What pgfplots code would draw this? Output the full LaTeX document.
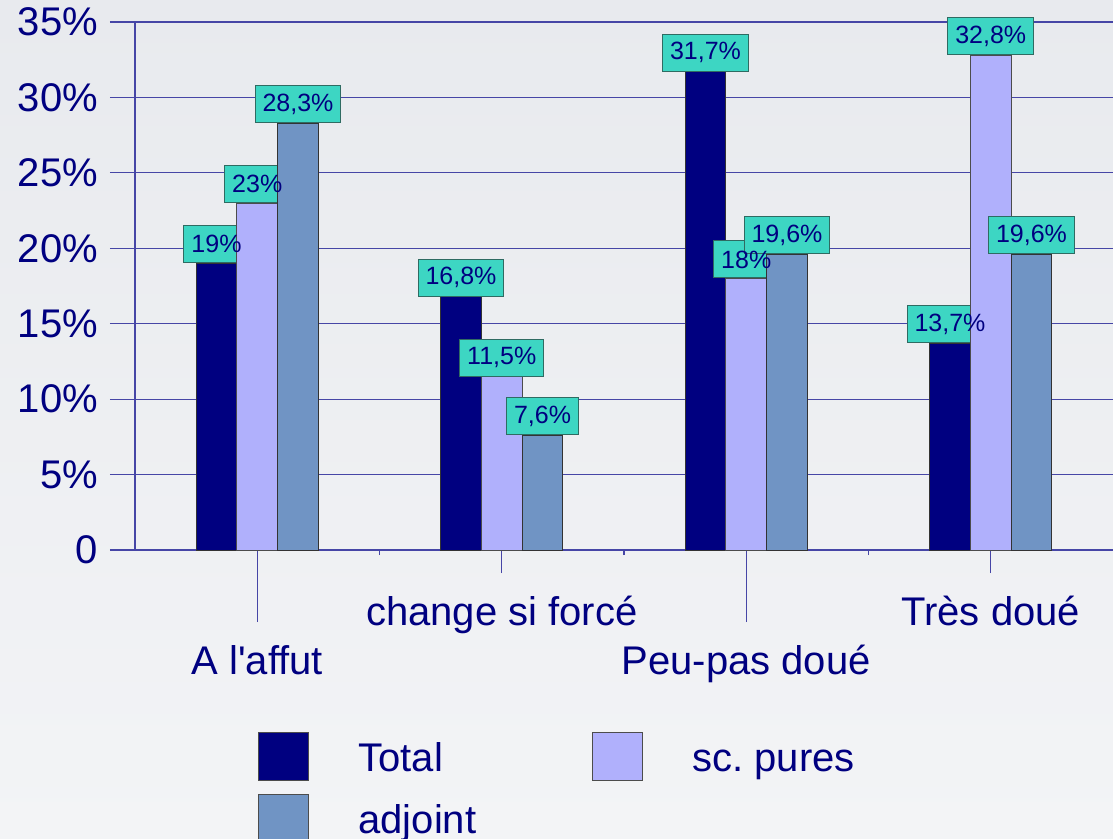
\documentclass[border=0pt]{standalone}
\usepackage{fontspec}
\setmainfont{Liberation Sans}[Ligatures=TeXOff]
\usepackage{pgfplots}
\pgfplotsset{compat=1.18}
\usepackage{pgfplotstable}

\definecolor{navy}{HTML}{000080}
\definecolor{lavender}{HTML}{B0B0FC}
\definecolor{steel}{HTML}{7094C4}
\definecolor{lblteal}{HTML}{3DD6C3}
\definecolor{lblborder}{HTML}{2F6B62}
\definecolor{gridblue}{HTML}{4646A6}
\definecolor{bgtop}{HTML}{E8EAEE}
\definecolor{bgbot}{HTML}{F3F4F6}

% values in %, one row per category
\pgfplotstableread{
cat total pures adjoint
0 19.0 23.0 28.3
1 16.8 11.5 7.6
2 31.7 18.0 19.6
3 13.7 32.8 19.6
}\datatable

\tikzset{
  lblbox/.style={anchor=south, fill=lblteal, draw=lblborder, line width=0.5pt,
    inner xsep=3.75pt, inner ysep=0pt, minimum height=18.5pt,
    font=\fontsize{12.5}{15}\selectfont, text=navy, text opacity=0},
  lbltext/.style={lblbox, fill=none, draw=none, text opacity=1},
}

\begin{document}
\begin{tikzpicture}
\useasboundingbox (0,0) rectangle (556.5pt,-419.5pt);
\fill[top color=bgtop, bottom color=bgbot] (0,0) rectangle (556.5pt,-419.5pt);
\clip (0,0) rectangle (556.5pt,-419.5pt);
\begin{axis}[
  at={(67.5pt,-275pt)}, anchor=south west,
  scale only axis, width=489pt, height=264pt,
  xmin=-0.5, xmax=3.5, ymin=0, ymax=35,
  enlargelimits=false, clip=false, clip marker paths=true,
  axis lines*=left,
  axis line style={gridblue, line width=0.6pt},
  ybar=0pt, bar width=0.1667,
  ytick={0,5,...,35},
  yticklabels={0,5\%,10\%,15\%,20\%,25\%,30\%,35\%},
  ymajorgrids,
  major grid style={gridblue, line width=0.6pt},
  tick align=outside,
  tick style={gridblue, line width=0.6pt},
  major tick length=12.5pt,
  minor tick length=2.5pt,
  xtick style={/pgfplots/major tick length=36pt},
  yticklabel style={font=\fontsize{20}{24}\selectfont, text=navy, xshift=-2.5pt},
  xtick={0,2},
  xticklabels={A l'affut, Peu-pas doué},
  xticklabel style={font=\fontsize{20}{24}\selectfont, text=navy, yshift=-31.5pt},
  minor xtick={0.5,1.5,2.5},
  extra x ticks={1,3},
  extra x tick labels={change si forcé, Très doué},
  extra x tick style={major tick length=11.5pt,
    xtick style={/pgfplots/major tick length=11.5pt},
    xticklabel style={yshift=23.5pt}},
  nodes near coords={\pgfmathprintnumber[use comma,fixed,precision=1,assume math mode=true]{\pgfplotspointmeta}\%},
  legend columns=2,
  legend cell align=left,
  legend style={at={(0.1258,-0.3447)}, anchor=north west, draw=none, fill=none,
    inner sep=0pt, row sep=6.5pt, font=\fontsize{20}{24}\selectfont, text=navy,
    nodes={inner sep=0pt, text height=14.4pt, text depth=0pt},
    /tikz/every odd column/.append style={column sep=24.5pt}},
  legend image code/.code={\draw[#1, draw=black!70, line width=0.5pt] (0pt,-12pt) rectangle (25pt,12pt);},
]
% bars with their label boxes
\addplot[fill=navy, draw=black!80, line width=0.5pt, bar shift=-0.1667,
  every node near coord/.append style=lblbox] table[x=cat, y=total] {\datatable};
\addplot[fill=lavender, draw=black!70, line width=0.5pt, bar shift=0,
  every node near coord/.append style=lblbox] table[x=cat, y=pures] {\datatable};
\addplot[fill=steel, draw=black!80, line width=0.5pt, bar shift=0.1667,
  every node near coord/.append style=lblbox] table[x=cat, y=adjoint] {\datatable};
\legend{\makebox[117pt][l]{Total}, sc.\ pures, adjoint}
% label text on top of everything
\addplot[draw=none, fill=none, forget plot, bar shift=-0.1667,
  every node near coord/.append style=lbltext] table[x=cat, y=total] {\datatable};
\addplot[draw=none, fill=none, forget plot, bar shift=0,
  every node near coord/.append style=lbltext] table[x=cat, y=pures] {\datatable};
\addplot[draw=none, fill=none, forget plot, bar shift=0.1667,
  every node near coord/.append style=lbltext] table[x=cat, y=adjoint] {\datatable};
\end{axis}
\end{tikzpicture}
\end{document}
